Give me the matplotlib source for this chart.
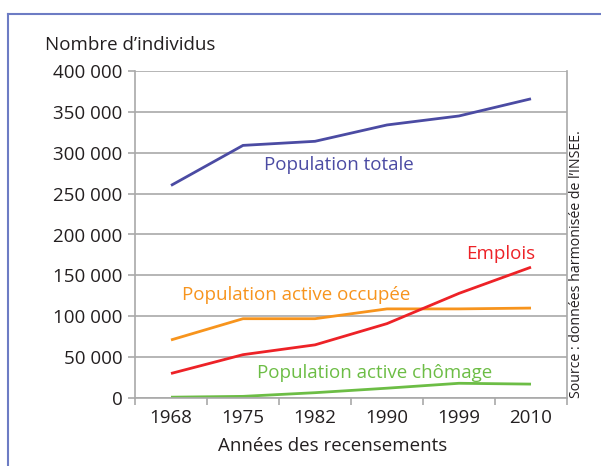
import matplotlib
matplotlib.use("Agg")
import matplotlib.pyplot as plt
from matplotlib.lines import Line2D

plt.rcParams['font.family'] = ['Open Sans', 'DejaVu Sans']

years = ["1968", "1975", "1982", "1990", "1999", "2010"]
pop_totale = [260000, 309000, 314000, 334000, 345000, 366000]
pop_occupee = [71000, 97000, 97000, 109000, 109000, 110000]
emplois = [30000, 53000, 65000, 91000, 128000, 160000]
chomage = [1000, 2000, 6500, 12000, 18000, 17000]
yticks = [0, 50000, 100000, 150000, 200000, 250000, 300000, 350000, 400000]
ytick_labels = ["0", "50 000", "100 000", "150 000", "200 000", "250 000",
                "300 000", "350 000", "400 000"]

c_blue = "#4b4ba3"
c_orange = "#f7941d"
c_red = "#ed2227"
c_green = "#6cbd45"
c_grid = "#a9a9a9"
c_text = "#231f20"

fig = plt.figure(figsize=(6.01, 4.66), dpi=100)
ax = fig.add_axes([135/601, 1-398/466, (567-135)/601, (398-71)/466])

x = list(range(len(years)))
lw = 2.0
ax.plot(x, pop_totale, color=c_blue, lw=lw, solid_capstyle='butt')
ax.plot(x, pop_occupee, color=c_orange, lw=lw, solid_capstyle='butt')
ax.plot(x, emplois, color=c_red, lw=lw, solid_capstyle='butt')
ax.plot(x, chomage, color=c_green, lw=lw, solid_capstyle='butt')

ax.set_xlim(-0.5, len(years) - 0.5)
ax.set_ylim(0, 400000)
ax.set_yticks(yticks)
ax.set_yticklabels(ytick_labels)
ax.set_xticks(x)
ax.set_xticklabels(years)
ax.set_xticks([i - 0.5 for i in range(len(years) + 1)], minor=True)
ax.tick_params(axis='x', which='major', length=0, pad=8, labelsize=13.5, labelcolor=c_text)
ax.tick_params(axis='x', which='minor', length=5, width=1.2, color=c_grid, direction='out')
ax.tick_params(axis='y', which='major', length=5, width=1.2, color=c_grid, pad=4,
               labelsize=13.5, labelcolor=c_text)

ax.yaxis.grid(True, color=c_grid, lw=1.2)
ax.set_axisbelow(True)
for s in ['left', 'right', 'bottom']:
    ax.spines[s].set_color(c_grid)
    ax.spines[s].set_linewidth(1.2)
ax.spines['top'].set_visible(False)

fs = 13.5
ax.text(2.33, 285000, "Population totale", color=c_blue, fontsize=fs, ha='center', va='center')
ax.text(4.58, 176000, "Emplois", color=c_red, fontsize=fs, ha='center', va='center')
ax.text(1.74, 126000, "Population active occupée", color=c_orange, fontsize=fs, ha='center', va='center')
ax.text(2.83, 30500, "Population active chômage", color=c_green, fontsize=fs, ha='center', va='center')

fig.text(45/601, 1-45/466, "Nombre d’individus", fontsize=13.5, color=c_text, ha='left', va='center')
fig.text(333/601, 1-446/466, "Années des recensements", fontsize=13.5, color=c_text, ha='center', va='center')
fig.text(576/601, 1-398/466, "Source : données harmonisée de l’INSEE.", fontsize=10.2, color=c_text,
         rotation=90, ha='center', va='bottom')

frame_c = "#6d7cc4"
fig.add_artist(Line2D([8/601, 8/601], [0, 1-14/466], color=frame_c, lw=1.5, transform=fig.transFigure))
fig.add_artist(Line2D([8/601, 1], [1-14/466, 1-14/466], color=frame_c, lw=1.5, transform=fig.transFigure))

fig.savefig("out.png", dpi=100)
